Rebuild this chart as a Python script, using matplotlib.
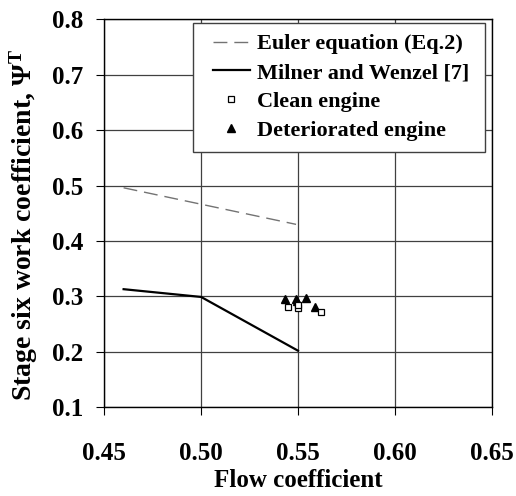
import matplotlib.pyplot as plt
from matplotlib.lines import Line2D
from matplotlib.legend_handler import HandlerLine2D

# Euler equation (Eq.2)
euler_x = [0.46, 0.549]
euler_y = [0.496, 0.430]

# Milner and Wenzel [7]
milner_x = [0.46, 0.50, 0.55]
milner_y = [0.313, 0.299, 0.202]

# clean engine
clean_x = [0.545, 0.5502, 0.5502, 0.5617]
clean_y = [0.2816, 0.2798, 0.2847, 0.2726]

# deteriorated engine
det_x = [0.5433, 0.5488, 0.5496, 0.554, 0.5588]
det_y = [0.2955, 0.2955, 0.2919, 0.2968, 0.2816]

x_ticks = [0.45, 0.50, 0.55, 0.60, 0.65]
y_ticks = [0.1, 0.2, 0.3, 0.4, 0.5, 0.6, 0.7, 0.8]


def main():
    plt.rcParams['font.family'] = ['Liberation Serif', 'DejaVu Serif']
    plt.rcParams['font.weight'] = 'bold'
    plt.rcParams['mathtext.fontset'] = 'custom'
    plt.rcParams['mathtext.rm'] = 'Liberation Serif:bold'
    plt.rcParams['mathtext.it'] = 'Liberation Serif:bold'

    fig = plt.figure(figsize=(5.16, 4.96), dpi=100)
    ax = fig.add_axes([0.202, 0.179, 0.751, 0.782])

    ax.plot(euler_x, euler_y, color='0.45', lw=1.0, dashes=(10, 5),
            label='Euler equation (Eq.2)')
    ax.plot(milner_x, milner_y, color='black', lw=1.6,
            label='Milner and Wenzel [7]')
    ax.plot(det_x, det_y, linestyle='none', marker='^', ms=6,
            color='black', label='_nolegend_', zorder=3)
    ax.plot(clean_x, clean_y, linestyle='none', marker='s', ms=5,
            mfc='white', mec='black', mew=0.9, label='Clean engine', zorder=4)
    # legend entry for triangles (keep legend order)
    ax.plot([], [], linestyle='none', marker='^', ms=6, color='black',
            label='Deteriorated engine')

    ax.set_xlim(0.45, 0.65)
    ax.set_ylim(0.1, 0.8)
    ax.set_xticks(x_ticks)
    ax.set_yticks(y_ticks)
    ax.set_xticklabels(['%.2f' % v for v in x_ticks])
    ax.set_yticklabels(['%.1f' % v for v in y_ticks])
    ax.tick_params(direction='out', length=6, width=0.8, labelsize=18)
    ax.tick_params(axis='x', pad=19)
    ax.tick_params(axis='y', pad=9)

    ax.grid(True, color='0.25', lw=0.9)
    ax.set_axisbelow(True)
    for sp in ax.spines.values():
        sp.set_color('black')
        sp.set_linewidth(1.0)

    ax.set_xlabel('Flow coefficient', fontsize=18, fontweight='bold', labelpad=3)
    ax.set_ylabel(r'Stage six work coefficient, $\Psi^{\mathrm{T}}$', fontsize=20,
                  fontweight='bold')
    ax.yaxis.set_label_coords(-0.167, 0.47)

    leg = ax.legend(loc='upper right', bbox_to_anchor=(0.2289, 0.5, 0.7548, 0.4912),
                    mode='expand', borderaxespad=0,
                    fontsize=16, frameon=True, fancybox=False, framealpha=1,
                    edgecolor='0.25', handlelength=2.05, handletextpad=0.32,
                    labelspacing=0.37, borderpad=0.5,
                    handler_map={Line2D: HandlerLine2D(xpad=0.4)})
    leg.get_frame().set_linewidth(1.0)

    plt.savefig('out.png', dpi=100)


if __name__ == "__main__":
    main()
